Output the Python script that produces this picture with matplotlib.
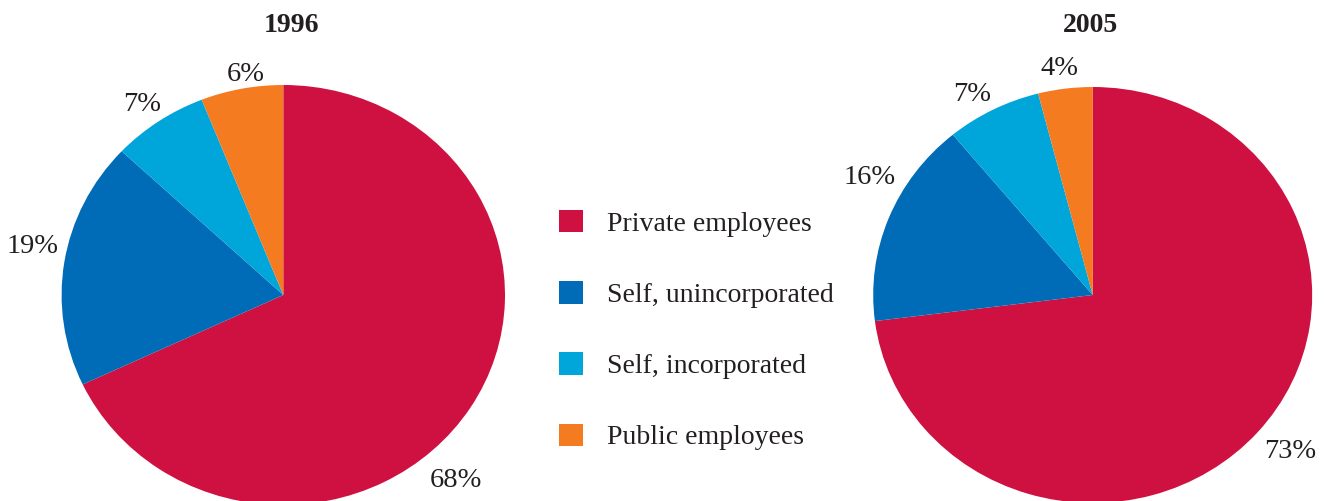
import matplotlib.pyplot as plt
from matplotlib.patches import Patch

plt.rcParams['font.family'] = ['Liberation Serif', 'DejaVu Serif']

# share of workers by class of employment
categories = ['Private employees', 'Self, unincorporated', 'Self, incorporated', 'Public employees']
years = ['1996', '2005']
shares1996 = [68, 19, 7, 6]
shares2005 = [73, 16, 7, 4]

colors = ['#CE1140', '#006BB6', '#00A5D9', '#F47B20']

# label anchors in pie units (x, y) for each wedge
labelPos1996 = [(0.778, -0.885), (-1.130, 0.229), (-0.639, 0.905), (-0.170, 1.049)]
labelPos2005 = [(0.899, -0.750), (-1.015, 0.563), (-0.549, 0.963), (-0.149, 1.088)]

W, H = 1326, 501
fig = plt.figure(figsize=(W / 100, H / 100), dpi=100)


def pixelAxes(cx, cy, rx, ry):
    # axes spanning the ellipse with centre (cx, cy) and radii rx, ry in pixels
    return fig.add_axes([(cx - rx) / W, (H - cy - ry) / H, 2 * rx / W, 2 * ry / H])


def drawPie(ax, values, labelPos):
    ax.pie(values, colors=colors, startangle=90, counterclock=False, radius=1,
           wedgeprops=dict(linewidth=0))
    ax.set_aspect('auto')
    ax.set_xlim(-1, 1)
    ax.set_ylim(-1, 1)
    ax.axis('off')
    for v, (x, y) in zip(values, labelPos):
        ax.text(x, y, f'{v}%', ha='center', va='center', fontsize=20.5, color='#231F20',
                clip_on=False)


axLeft = pixelAxes(283.3, 295, 221.7, 210)
drawPie(axLeft, shares1996, labelPos1996)
axRight = pixelAxes(1092.7, 295, 219.5, 208)
drawPie(axRight, shares2005, labelPos2005)

fig.text(291 / W, 1 - 25 / H, years[0], ha='center', va='center', fontsize=20,
         fontweight='bold', color='#231F20')
fig.text(1090.7 / W, 1 - 25 / H, years[1], ha='center', va='center', fontsize=20,
         fontweight='bold', color='#231F20')

handles = [Patch(facecolor=c, edgecolor='none') for c in colors]
fig.legend(handles, categories, loc='upper left', bbox_to_anchor=(559 / W, 1 - 210 / H),
           frameon=False, fontsize=20, handlelength=0.86, handleheight=0.86,
           handletextpad=0.86, labelspacing=1.6, borderaxespad=0, borderpad=0,
           labelcolor='#231F20')

fig.savefig('out.png', dpi=100)
